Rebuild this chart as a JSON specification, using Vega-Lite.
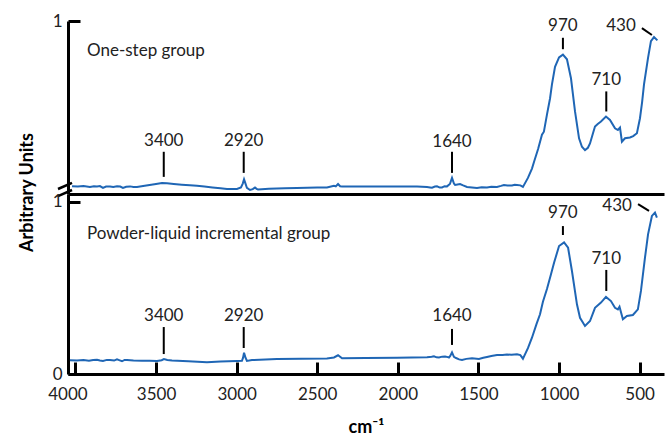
{
  "$schema": "https://vega.github.io/schema/vega-lite/v6.json",
  "padding": {"left": 18, "top": 12, "right": 5, "bottom": 0},
  "background": "white",
  "spacing": 0,
  "bounds": "flush",
  "config": {
    "view": {"stroke": null},
    "font": "Lato",
    "axis": {
      "grid": false,
      "domainColor": "black",
      "tickColor": "black",
      "labelColor": "#222222",
      "titleColor": "black",
      "labelFont": "Lato",
      "titleFont": "Lato",
      "labelFontSize": 17,
      "titleFontSize": 18,
      "domainWidth": 3,
      "tickWidth": 3
    }
  },
  "datasets": {
    "top": [
      {"wn":4021,"v":0.045},{"wn":3985,"v":0.043},{"wn":3950,"v":0.046},{"wn":3910,"v":0.041},{"wn":3885,"v":0.045},{"wn":3866,"v":0.044},{"wn":3848,"v":0.046},{"wn":3829,"v":0.035},{"wn":3810,"v":0.043},{"wn":3785,"v":0.044},{"wn":3765,"v":0.041},{"wn":3742,"v":0.045},{"wn":3722,"v":0.043},{"wn":3705,"v":0.035},{"wn":3685,"v":0.042},{"wn":3661,"v":0.044},{"wn":3640,"v":0.040},{"wn":3618,"v":0.041},{"wn":3580,"v":0.046},{"wn":3540,"v":0.052},{"wn":3500,"v":0.058},{"wn":3463,"v":0.064},{"wn":3432,"v":0.062},{"wn":3390,"v":0.058},{"wn":3340,"v":0.054},{"wn":3290,"v":0.051},{"wn":3246,"v":0.048},{"wn":3200,"v":0.043},{"wn":3150,"v":0.038},{"wn":3100,"v":0.033},{"wn":3060,"v":0.029},{"wn":2998,"v":0.029},{"wn":2973,"v":0.038},{"wn":2962,"v":0.060},{"wn":2954,"v":0.085},{"wn":2945,"v":0.060},{"wn":2936,"v":0.035},{"wn":2917,"v":0.023},{"wn":2900,"v":0.028},{"wn":2886,"v":0.038},{"wn":2876,"v":0.030},{"wn":2867,"v":0.026},{"wn":2800,"v":0.030},{"wn":2700,"v":0.033},{"wn":2626,"v":0.035},{"wn":2500,"v":0.037},{"wn":2440,"v":0.038},{"wn":2396,"v":0.047},{"wn":2385,"v":0.044},{"wn":2371,"v":0.058},{"wn":2358,"v":0.045},{"wn":2346,"v":0.044},{"wn":2315,"v":0.044},{"wn":2200,"v":0.044},{"wn":2000,"v":0.044},{"wn":1881,"v":0.044},{"wn":1819,"v":0.041},{"wn":1800,"v":0.038},{"wn":1788,"v":0.036},{"wn":1770,"v":0.043},{"wn":1757,"v":0.044},{"wn":1740,"v":0.037},{"wn":1726,"v":0.038},{"wn":1710,"v":0.045},{"wn":1695,"v":0.044},{"wn":1677,"v":0.058},{"wn":1664,"v":0.093},{"wn":1652,"v":0.060},{"wn":1645,"v":0.052},{"wn":1630,"v":0.055},{"wn":1614,"v":0.058},{"wn":1595,"v":0.050},{"wn":1571,"v":0.041},{"wn":1540,"v":0.038},{"wn":1509,"v":0.035},{"wn":1480,"v":0.039},{"wn":1447,"v":0.038},{"wn":1420,"v":0.042},{"wn":1385,"v":0.041},{"wn":1360,"v":0.047},{"wn":1342,"v":0.052},{"wn":1320,"v":0.049},{"wn":1292,"v":0.049},{"wn":1275,"v":0.053},{"wn":1261,"v":0.052},{"wn":1240,"v":0.050},{"wn":1224,"v":0.041},{"wn":1193,"v":0.093},{"wn":1168,"v":0.147},{"wn":1155,"v":0.186},{"wn":1130,"v":0.260},{"wn":1106,"v":0.343},{"wn":1094,"v":0.360},{"wn":1075,"v":0.459},{"wn":1056,"v":0.552},{"wn":1044,"v":0.634},{"wn":1025,"v":0.735},{"wn":1000,"v":0.790},{"wn":976,"v":0.806},{"wn":951,"v":0.779},{"wn":926,"v":0.669},{"wn":901,"v":0.477},{"wn":876,"v":0.322},{"wn":858,"v":0.273},{"wn":839,"v":0.254},{"wn":821,"v":0.267},{"wn":808,"v":0.292},{"wn":790,"v":0.350},{"wn":777,"v":0.390},{"wn":760,"v":0.405},{"wn":740,"v":0.419},{"wn":709,"v":0.448},{"wn":684,"v":0.428},{"wn":653,"v":0.380},{"wn":635,"v":0.370},{"wn":622,"v":0.384},{"wn":610,"v":0.302},{"wn":591,"v":0.322},{"wn":560,"v":0.327},{"wn":540,"v":0.335},{"wn":517,"v":0.351},{"wn":498,"v":0.438},{"wn":485,"v":0.530},{"wn":473,"v":0.634},{"wn":448,"v":0.787},{"wn":430,"v":0.884},{"wn":411,"v":0.907},{"wn":390,"v":0.888}
    ],
    "bottom": [
      {"wn":4034,"v":0.080},{"wn":3990,"v":0.079},{"wn":3950,"v":0.081},{"wn":3916,"v":0.077},{"wn":3890,"v":0.082},{"wn":3866,"v":0.083},{"wn":3848,"v":0.079},{"wn":3829,"v":0.076},{"wn":3805,"v":0.082},{"wn":3785,"v":0.081},{"wn":3760,"v":0.078},{"wn":3742,"v":0.085},{"wn":3725,"v":0.079},{"wn":3711,"v":0.074},{"wn":3695,"v":0.082},{"wn":3680,"v":0.081},{"wn":3640,"v":0.078},{"wn":3587,"v":0.077},{"wn":3540,"v":0.077},{"wn":3494,"v":0.076},{"wn":3465,"v":0.080},{"wn":3451,"v":0.087},{"wn":3430,"v":0.082},{"wn":3401,"v":0.078},{"wn":3300,"v":0.074},{"wn":3184,"v":0.068},{"wn":3100,"v":0.073},{"wn":2998,"v":0.076},{"wn":2967,"v":0.077},{"wn":2960,"v":0.095},{"wn":2954,"v":0.124},{"wn":2945,"v":0.095},{"wn":2936,"v":0.076},{"wn":2905,"v":0.081},{"wn":2750,"v":0.087},{"wn":2600,"v":0.089},{"wn":2440,"v":0.090},{"wn":2396,"v":0.096},{"wn":2371,"v":0.109},{"wn":2346,"v":0.091},{"wn":2200,"v":0.093},{"wn":2005,"v":0.095},{"wn":1819,"v":0.097},{"wn":1790,"v":0.100},{"wn":1776,"v":0.103},{"wn":1760,"v":0.097},{"wn":1745,"v":0.096},{"wn":1725,"v":0.101},{"wn":1707,"v":0.102},{"wn":1690,"v":0.098},{"wn":1683,"v":0.096},{"wn":1675,"v":0.105},{"wn":1664,"v":0.126},{"wn":1652,"v":0.100},{"wn":1639,"v":0.093},{"wn":1620,"v":0.085},{"wn":1602,"v":0.081},{"wn":1575,"v":0.088},{"wn":1540,"v":0.091},{"wn":1497,"v":0.087},{"wn":1470,"v":0.094},{"wn":1447,"v":0.099},{"wn":1420,"v":0.105},{"wn":1385,"v":0.110},{"wn":1350,"v":0.110},{"wn":1323,"v":0.113},{"wn":1295,"v":0.112},{"wn":1261,"v":0.115},{"wn":1240,"v":0.110},{"wn":1224,"v":0.089},{"wn":1193,"v":0.150},{"wn":1168,"v":0.211},{"wn":1140,"v":0.290},{"wn":1118,"v":0.347},{"wn":1100,"v":0.420},{"wn":1075,"v":0.494},{"wn":1050,"v":0.580},{"wn":1031,"v":0.647},{"wn":1000,"v":0.744},{"wn":969,"v":0.765},{"wn":944,"v":0.734},{"wn":920,"v":0.599},{"wn":889,"v":0.405},{"wn":870,"v":0.327},{"wn":839,"v":0.279},{"wn":808,"v":0.308},{"wn":777,"v":0.385},{"wn":740,"v":0.415},{"wn":709,"v":0.448},{"wn":678,"v":0.424},{"wn":653,"v":0.385},{"wn":635,"v":0.376},{"wn":625,"v":0.391},{"wn":604,"v":0.318},{"wn":579,"v":0.337},{"wn":542,"v":0.343},{"wn":511,"v":0.376},{"wn":492,"v":0.483},{"wn":467,"v":0.676},{"wn":448,"v":0.812},{"wn":424,"v":0.919},{"wn":405,"v":0.938},{"wn":393,"v":0.909}
    ],
    "annTop": [
      {"label":"3400","tx":3452,"ty":0.308,"x1":3452,"x2":3452,"y1":0.244,"y2":0.099},
      {"label":"2920","tx":2956,"ty":0.308,"x1":2956,"x2":2956,"y1":0.244,"y2":0.122},
      {"label":"1640","tx":1664,"ty":0.302,"x1":1664,"x2":1664,"y1":0.244,"y2":0.122},
      {"label":"970","tx":976,"ty":0.971,"x1":976,"x2":976,"y1":0.903,"y2":0.837},
      {"label":"710","tx":707,"ty":0.657,"x1":707,"x2":707,"y1":0.593,"y2":0.477},
      {"label":"430","tx":616,"ty":0.971,"x1":486,"x2":424,"y1":0.959,"y2":0.919}
    ],
    "annBottom": [
      {"label":"3400","tx":3452,"ty":0.337,"x1":3452,"x2":3452,"y1":0.273,"y2":0.116},
      {"label":"2920","tx":2956,"ty":0.337,"x1":2956,"x2":2956,"y1":0.273,"y2":0.151},
      {"label":"1640","tx":1664,"ty":0.337,"x1":1664,"x2":1664,"y1":0.262,"y2":0.169},
      {"label":"970","tx":976,"ty":0.938,"x1":976,"x2":976,"y1":0.860,"y2":0.808},
      {"label":"710","tx":707,"ty":0.669,"x1":707,"x2":707,"y1":0.605,"y2":0.483},
      {"label":"430","tx":640,"ty":0.977,"x1":510,"x2":442,"y1":0.988,"y2":0.948}
    ],
    "one": [{}]
  },
  "vconcat": [
    {
      "width": 596,
      "height": 173,
      "layer": [
        {
          "data": {"name": "top"},
          "mark": {"type": "line", "color": "#1f66b5", "strokeWidth": 2},
          "encoding": {
            "x": {"field": "wn", "type": "quantitative",
                  "scale": {"domain": [4046, 349], "nice": false, "zero": false},
                  "axis": {"labels": false, "ticks": false, "title": null}},
            "y": {"field": "v", "type": "quantitative",
                  "scale": {"domain": [0, 1], "nice": false},
                  "axis": {"values": [1], "format": "~g", "title": null, "tickSize": -12, "labelPadding": 18}}
          }
        },
        {
          "data": {"name": "annTop"},
          "mark": {"type": "rule", "color": "black", "strokeWidth": 2},
          "encoding": {
            "x": {"field": "x1", "type": "quantitative"},
            "x2": {"field": "x2"},
            "y": {"field": "y1", "type": "quantitative"},
            "y2": {"field": "y2"}
          }
        },
        {
          "data": {"name": "annTop"},
          "mark": {"type": "text", "fontSize": 17, "font": "Lato", "color": "#222222", "align": "center", "baseline": "middle"},
          "encoding": {
            "x": {"field": "tx", "type": "quantitative"},
            "y": {"field": "ty", "type": "quantitative"},
            "text": {"field": "label"}
          }
        },
        {
          "data": {"name": "one"},
          "mark": {"type": "text", "text": "One-step group", "fontSize": 17, "font": "Lato", "color": "#222222", "align": "left", "baseline": "middle"},
          "encoding": {"x": {"datum": 3928}, "y": {"datum": 0.826}}
        },
        {
          "data": {"name": "one"},
          "mark": {"type": "rule", "color": "black", "strokeWidth": 2.5, "clip": false},
          "encoding": {"x": {"datum": 4108}, "x2": {"datum": 4021}, "y": {"datum": 0.029}, "y2": {"datum": 0.064}}
        },
        {
          "data": {"name": "one"},
          "mark": {"type": "rule", "color": "black", "strokeWidth": 2.5, "clip": false},
          "encoding": {"x": {"datum": 4108}, "x2": {"datum": 4021}, "y": {"datum": -0.012}, "y2": {"datum": 0.023}}
        }
      ]
    },
    {
      "width": 596,
      "height": 180,
      "layer": [
        {
          "data": {"name": "bottom"},
          "mark": {"type": "line", "color": "#1f66b5", "strokeWidth": 2},
          "encoding": {
            "x": {"field": "wn", "type": "quantitative",
                  "scale": {"domain": [4046, 349], "nice": false, "zero": false},
                  "axis": {"values": [4000, 3500, 3000, 2500, 2000, 1500, 1000, 500], "format": "d", "tickSize": -12, "labelPadding": 24,
                           "labelOffset": {"condition": {"test": "datum.value === 4000", "value": -8}, "value": 0},
                           "title": "cm⁻¹", "titleFontWeight": "bold", "titlePadding": 16}},
            "y": {"field": "v", "type": "quantitative",
                  "scale": {"domain": [0, 1.0465], "nice": false},
                  "axis": {"values": [0, 1], "format": "~g", "tickSize": -12, "labelPadding": 18,
                           "title": "Arbitrary Units", "titleFontWeight": "bold", "titleY": -2, "titlePadding": 16}}
          }
        },
        {
          "data": {"name": "annBottom"},
          "mark": {"type": "rule", "color": "black", "strokeWidth": 2},
          "encoding": {
            "x": {"field": "x1", "type": "quantitative"},
            "x2": {"field": "x2"},
            "y": {"field": "y1", "type": "quantitative"},
            "y2": {"field": "y2"}
          }
        },
        {
          "data": {"name": "annBottom"},
          "mark": {"type": "text", "fontSize": 17, "font": "Lato", "color": "#222222", "align": "center", "baseline": "middle"},
          "encoding": {
            "x": {"field": "tx", "type": "quantitative"},
            "y": {"field": "ty", "type": "quantitative"},
            "text": {"field": "label"}
          }
        },
        {
          "data": {"name": "one"},
          "mark": {"type": "text", "text": "Powder-liquid incremental group", "fontSize": 17, "font": "Lato", "color": "#222222", "align": "left", "baseline": "middle"},
          "encoding": {"x": {"datum": 3928}, "y": {"datum": 0.814}}
        }
      ]
    }
  ]
}
